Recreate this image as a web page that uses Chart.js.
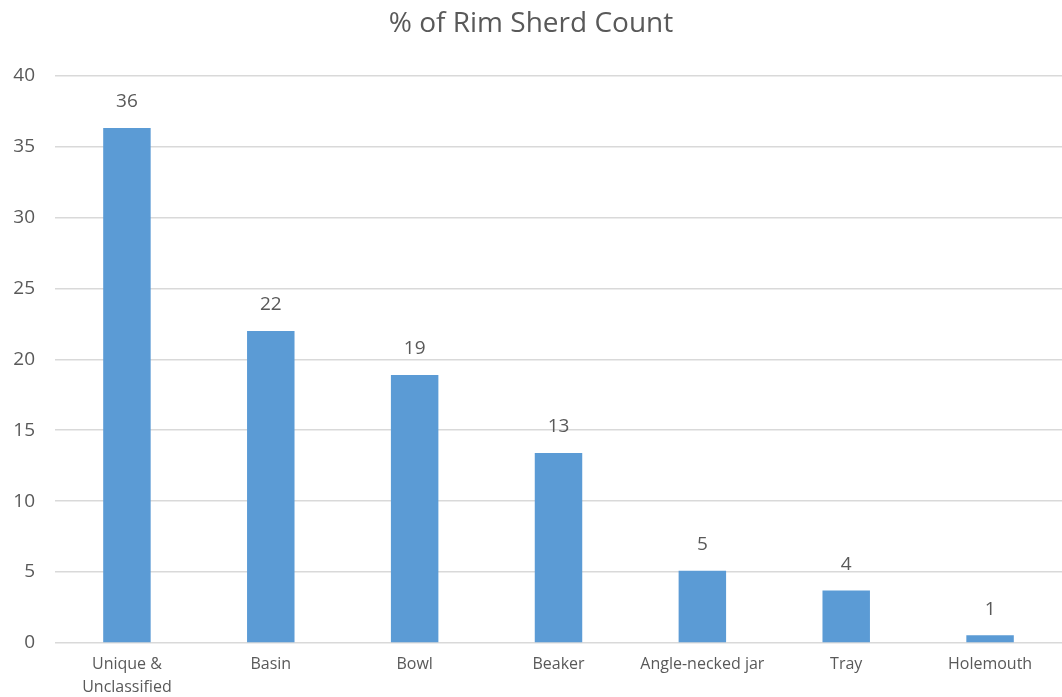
<!DOCTYPE html>
<html>
<head>
<meta charset="utf-8">
<script src="https://cdn.jsdelivr.net/npm/chart.js@4"></script>
<style>
  html, body { margin: 0; padding: 0; background: #fff; }
  #wrap { width: 1062px; height: 697px; }
</style>
</head>
<body>
<div id="wrap"><canvas id="myChart" width="1062" height="697"></canvas></div>
<script>
const categories = [['Unique &', 'Unclassified'], 'Basin', 'Bowl', 'Beaker', 'Angle-necked jar', 'Tray', 'Holemouth']
const percentValues = [36.3, 22.0, 18.9, 13.4, 5.1, 3.7, 0.55]
const yTicks = [0, 5, 10, 15, 20, 25, 30, 35, 40]

const textColor = '#595959'
const fontName = "'Open Sans', 'Noto Sans', sans-serif"

// draws the rounded value above each bar
const valueLabels = {
    id: 'valueLabels',
    afterDatasetsDraw(chart) {
        const ctx = chart.ctx
        const meta = chart.getDatasetMeta(0)
        ctx.save()
        ctx.font = '19px ' + fontName
        ctx.fillStyle = textColor
        ctx.textAlign = 'center'
        ctx.textBaseline = 'middle'
        meta.data.forEach(function (bar, i) {
            ctx.fillText(Math.round(percentValues[i]), bar.x, bar.y - 26)
        })
        ctx.restore()
    }
}

const data = {
    labels: categories,
    datasets: [{
        data: percentValues,
        backgroundColor: '#5B9BD5',
        borderWidth: 0,
        categoryPercentage: 1.0,
        barPercentage: 0.33
    }]
}

const options = {
    responsive: false,
    animation: false,
    layout: { padding: { left: 0, right: 0, top: 0, bottom: 0 } },
    plugins: {
        legend: { display: false },
        tooltip: { enabled: false },
        title: {
            display: true,
            text: '% of Rim Sherd Count',
            color: textColor,
            font: { family: fontName, size: 28, weight: 'normal' },
            padding: { top: 7, bottom: 35 }
        }
    },
    scales: {
        x: {
            afterFit: function (scale) { scale.height = 54 },
            grid: { display: false, drawTicks: false },
            border: { display: false },
            ticks: {
                color: textColor,
                font: { family: fontName, size: 16, lineHeight: 1.45 },
                maxRotation: 0,
                autoSkip: false,
                padding: 10
            }
        },
        y: {
            min: 0,
            max: 40,
            afterBuildTicks: function (scale) {
                scale.ticks = yTicks.map(function (v) { return { value: v } })
            },
            afterFit: function (scale) { scale.width = 55 },
            grid: { color: '#D9D9D9', lineWidth: 1.5, drawTicks: false },
            border: { display: false },
            ticks: {
                color: textColor,
                font: { family: fontName, size: 19 },
                padding: 20
            }
        }
    }
}

const ctx = document.getElementById('myChart')
const myBarChart = new Chart(ctx, {
    type: 'bar',
    data: data,
    options: options,
    plugins: [valueLabels]
})
</script>
</body>
</html>
